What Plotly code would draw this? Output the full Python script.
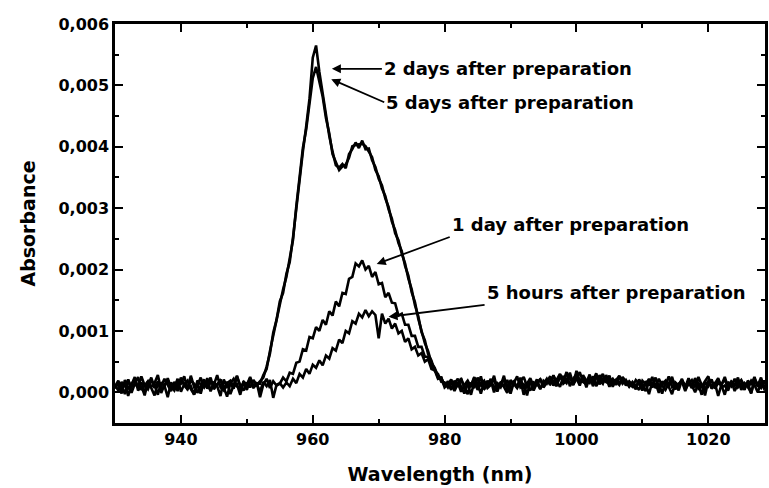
import numpy as np
import plotly.graph_objects as go

# ---------------- data (absorbance in units of 1e-5) ----------------
wavelength_nm = np.round(np.arange(930.0, 1029.0 + 0.25, 0.5), 1)  # 199 samples

abs_2days_1e5 = [
    8, 14, -2, 20, 6, 12, 25, 3, 10, -5, 18, 9, 15, 28, 4, 11, -8, 16, 7, 22,
    1, 13, 19, 5, -3, 12, 24, 8, 15, 2, 17, 10, -6, 21, 9, 14, 6, 26, 11, 3,
    16, 8, 20, 12,
    18, 24, 42, 63, 97, 118, 148, 162, 193, 212, 252, 298, 352, 392, 433, 478, 545, 565, 522, 488,
    452, 418, 392, 370, 366, 372, 365, 388, 396, 407, 398, 410, 396, 397, 378, 367, 348, 337, 316, 302,
    278, 264, 243, 230, 206, 190, 163, 147, 120, 102, 80, 67, 48, 40, 26, 22, 12,
    15, 4, 19, 9, 23, 7, 12, -4, 17, 10, 26, 5, 13, 20, 0, 14, 8, 22, 11, -2,
    16, 9, 24, 6, 12, 18, 3, 15, 21, 10,
    20, 14, 28, 12, 25, 18, 33, 10, 22, 30, 15, 26, 8, 24, 19, 31, 13, 22, 17, 27,
    9, 20, 15, 24, 11, 18,
    12, 5, 19, 9, 14, -3, 17, 8, 22, 11, 4, 15, 25, 7, 13, 18, 2, 16, 10, 21,
    6, 12, -5, 19, 9, 14, 23, 8, 11, 3, 17, 12, 20, 6, 15, 9, -1, 18, 11, 24, 7, 13,
]

abs_5days_1e5 = [
    12, 3, 17, 9, 21, -1, 14, 8, 26, 11, 5, 19, 13, -4, 16, 10, 23, 7, 15, 2,
    20, 12, 6, 27, 9, 14, -2, 18, 11, 24, 5, 13, 19, 8, -7, 15, 22, 10, 4, 17,
    12, 25, 9, 14,
    14, 28, 38, 67, 93, 122, 144, 168, 188, 218, 248, 303, 347, 398, 428, 468, 512, 530, 508, 482,
    447, 422, 388, 374, 362, 368, 371, 382, 401, 403, 404, 405, 401, 392, 383, 362, 352, 332, 320, 298,
    283, 259, 248, 226, 210, 185, 168, 142, 124, 98, 85, 62, 52, 35, 30, 17, 16,
    8, 18, 2, 14, 21, 10, -3, 16, 7, 24, 12, 6, 19, 11, 27, 4, 15, 9, -1, 20,
    13, 7, 18, 25, 10, 3, 16, 12, 22, 8,
    16, 26, 11, 21, 30, 14, 19, 27, 12, 35, 18, 23, 16, 29, 10, 24, 20, 14, 28, 17,
    22, 12, 26, 15, 19, 13,
    9, 20, 14, 3, 18, 11, 25, 7, 13, -2, 16, 10, 21, 5, 14, 19, 8, 23, 12, 0,
    15, 9, 18, 26, 6, 13, 20, 11, -4, 17, 10, 22, 8, 14, 4, 19, 12, 25, 9, 16, 5, 11,
]

abs_1day_1e5 = [
    10, 19, 4, 15, -6, 13, 22, 8, 16, 1, 11, 24, 7, 18, -1, 12, 20, 9, 3, 17,
    14, 26, 6, 10, -4, 19, 13, 8, 23, 2, 15, 11, 21, 5, 17, -3, 12, 27, 9, 14,
    4, 20, 10, 16, -8, 13, 22, 7, 18, 11,
    14, 24, 18, 32, 30, 48, 50, 70, 68, 90, 88, 106, 100, 118, 110, 132, 125, 148, 140, 162,
    160, 185, 188, 210, 205, 215, 200, 206, 188, 196, 176, 178, 155, 162, 146, 145, 125, 128, 110, 110,
    92, 92, 74, 74, 58, 58, 42, 38, 24, 24, 10,
    18, 6, 13, 22, 9, -2, 16, 11, 25, 4, 14, 19, 7, 12, 23, 1, 17, 10, 20, 5,
    15, 26, 8, 13, -5, 18, 11, 21, 6, 14,
    22, 12, 27, 17, 9, 25, 20, 32, 14, 23, 11, 28, 19, 15, 26, 10, 21, 30, 16, 24,
    12, 19, 27, 14, 20, 10,
    15, 8, 21, 12, 2, 17, 10, 24, 6, 13, 19, 9, -3, 16, 11, 22, 5, 14, 20, 8,
    25, 12, 3, 18, 10, 15, -6, 13, 21, 7, 17, 11, 24, 4, 14, 9, 19, 12, 0, 16, 8, 20,
]

abs_5hours_1e5 = [
    6, 16, 11, -3, 20, 9, 14, 25, 4, 12, 18, 7, -5, 15, 10, 22, 13, 2, 17, 8,
    24, 11, 5, 19, 14, -1, 10, 21, 6, 16, 12, 28, 8, 3, 15, 19, 9, 13, -4, 18,
    11, 23, 7, 14, 1, 17, 10, 20, -9, 12, 15, 8,
    16, 10, 22, 15, 30, 24, 38, 30, 45, 40, 52, 44, 60, 55, 72, 68, 86, 80, 100, 96,
    116, 112, 128, 122, 134, 124, 132, 126, 88, 128, 112, 120, 104, 112, 96, 100, 82, 88, 70, 74,
    60, 64, 50, 54, 38, 36, 22, 24, 8,
    13, 21, 7, 16, 1, 12, 19, 9, 24, 14, -2, 17, 10, 22, 6, 15, 11, 27, 3, 13,
    18, 8, 20, -4, 14, 23, 10, 16, 5, 19,
    14, 24, 18, 10, 29, 21, 15, 26, 12, 22, 33, 17, 13, 25, 20, 11, 28, 16, 23, 9,
    21, 18, 12, 25, 16, 9,
    17, 11, 4, 19, 13, 22, 8, 15, -1, 18, 12, 26, 9, 14, 3, 20, 11, 16, 7, 23,
    13, -4, 17, 10, 21, 6, 15, 12, 25, 8, 18, 2, 14, 20, 10, 16, -2, 22, 13, 7, 19, 10,
]

series_labels = [
    "2 days after preparation",
    "5 days after preparation",
    "1 day after preparation",
    "5 hours after preparation",
]
series_values = [abs_2days_1e5, abs_5days_1e5, abs_1day_1e5, abs_5hours_1e5]

x_title = "Wavelength (nm)"
y_title = "Absorbance"

# ---------------- figure ----------------
FONT = "DejaVu Sans, Arial, sans-serif"
fig = go.Figure()
for name, vals in zip(series_labels, series_values):
    assert len(vals) == len(wavelength_nm), (name, len(vals))
    fig.add_trace(go.Scatter(
        x=wavelength_nm, y=np.array(vals, dtype=float) / 1e5,
        mode="lines", name=name,
        line=dict(color="black", width=2.6),
        showlegend=False, hoverinfo="skip",
    ))

title_font = dict(family=FONT, size=19, color="black")
axis_common = dict(
    showgrid=False, zeroline=False, automargin=True,
    showline=True, linecolor="black", linewidth=2.5,
    mirror="ticks", ticks="inside", ticklen=8, tickwidth=2, tickcolor="black",
    tickprefix="<b>", ticksuffix="</b>",
    tickfont=dict(family=FONT, size=16, color="black"),
)

fig.update_xaxes(
    range=[930, 1028.6], tickmode="linear", tick0=940, dtick=20,
    minor=dict(dtick=10, ticks="inside", ticklen=4, tickwidth=2, tickcolor="black"),
    title=dict(text="<b>" + x_title + "</b>", font=title_font, standoff=20),
    **axis_common,
)
fig.update_yaxes(
    range=[-0.0005, 0.006], tickmode="linear", tick0=0, dtick=0.001,
    tickformat=".3f",
    minor=dict(dtick=0.0005, ticks="inside", ticklen=4, tickwidth=2, tickcolor="black"),
    title=dict(text="<b>" + y_title + "</b>", font=title_font, standoff=18),
    **axis_common,
)

# label annotations: arrow head in data coords, text box offset in pixels
ann_font = dict(family=FONT, size=18, color="black")
arrow_heads = [(962.9, 0.00527), (962.8, 0.00510), (969.7, 0.00209), (971.5, 0.00123)]
text_offsets_px = [(50, 0), (53, 23), (73, -27), (96, -12)]
text_yanchor = ["middle", "middle", "bottom", "bottom"]
annotations = []
for text, (hx, hy), (ox, oy), ya in zip(series_labels, arrow_heads, text_offsets_px, text_yanchor):
    annotations.append(dict(
        x=hx, y=hy, xref="x", yref="y",
        text="<b>" + text + "</b>", font=ann_font,
        xanchor="left", yanchor=ya,
        showarrow=True, ax=ox, ay=oy,
        arrowhead=2, arrowsize=1, arrowwidth=1.8, arrowcolor="black",
    ))

fig.update_layout(
    width=769, height=488,
    margin=dict(l=115, r=1, t=24, b=65),
    paper_bgcolor="white", plot_bgcolor="white",
    separators=", ",
    showlegend=False,
    annotations=annotations,
    font=dict(family=FONT, color="black"),
)

fig.write_html("out.html", config={"displayModeBar": False})
